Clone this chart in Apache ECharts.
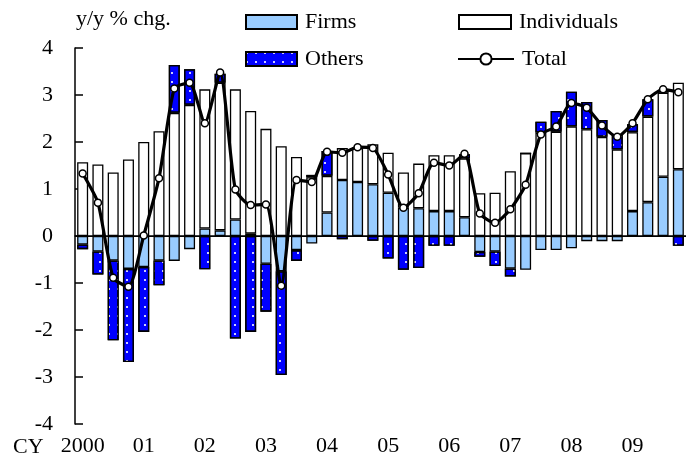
<!DOCTYPE html>
<html>
<head>
<meta charset="utf-8">
<script src="https://cdn.jsdelivr.net/npm/echarts@6/dist/echarts.min.js"></script>
<style>
  html, body { margin: 0; padding: 0; background: #fff; }
  #main { width: 686px; height: 468px; }
</style>
</head>
<body>
<div id="main"></div>
<script>
// year labels on the x axis, one per 4 quarters
var yearLabels = ['2000', '01', '02', '03', '04', '05', '06', '07', '08', '09'];

// y/y % chg. contributions, quarterly 2000Q1 - 2009Q4
var firms = [-0.18, -0.33, -0.52, -0.70, -0.66, -0.52, -0.53, -0.28,
  0.16, 0.12, 0.35, 0.05, -0.59, -0.75, -0.30, -0.16,
  0.50, 1.19, 1.15, 1.10, 0.92, 0.60, 0.59, 0.53,
  0.53, 0.40, -0.34, -0.33, -0.69, -0.72, -0.30, -0.30,
  -0.26, -0.11, -0.11, -0.11, 0.53, 0.72, 1.26, 1.42];
var individuals = [1.57, 1.52, 1.35, 1.63, 2.00, 2.23, 2.62, 2.79,
  2.96, 3.14, 2.77, 2.61, 2.28, 1.91, 1.68, 1.25,
  0.78, 0.68, 0.72, 0.85, 0.85, 0.75, 0.95, 1.19,
  1.19, 1.25, 0.91, 0.92, 1.38, 1.76, 2.20, 2.22,
  2.33, 2.27, 2.11, 1.84, 1.68, 1.82, 1.79, 1.84];
var others = [-0.10, -0.49, -1.70, -1.98, -1.38, -0.53, 1.02, 0.76,
  -0.71, 0.19, -2.18, -2.04, -1.02, -2.21, -0.23, 0.05,
  0.53, -0.07, 0, -0.10, -0.48, -0.72, -0.68, -0.21,
  -0.21, 0.09, -0.10, -0.31, -0.17, 0, 0.23, 0.44,
  0.74, 0.58, 0.36, 0.32, 0.17, 0.37, 0.05, -0.21];
var total = [1.33, 0.71, -0.89, -1.08, 0.01, 1.23, 3.14, 3.26,
  2.40, 3.48, 0.99, 0.66, 0.67, -1.06, 1.19, 1.15,
  1.79, 1.77, 1.89, 1.87, 1.31, 0.60, 0.91, 1.56,
  1.50, 1.75, 0.48, 0.28, 0.57, 1.09, 2.16, 2.33,
  2.83, 2.73, 2.35, 2.11, 2.40, 2.91, 3.12, 3.06];

var quarters = [];
yearLabels.forEach(function (y) {
  ['Q1', 'Q2', 'Q3', 'Q4'].forEach(function (q) { quarters.push(y + ' ' + q); });
});

var FONT = '"Liberation Serif", "Times New Roman", serif';
var chart = echarts.init(document.getElementById('main'));

function legendAt(name, left, top, w, icon) {
  return {
    data: [{ name: name, icon: icon }], left: left, top: top, padding: 0,
    itemWidth: w, itemHeight: 14, selectedMode: false,
    textStyle: { fontFamily: FONT, fontSize: 22, color: '#000', lineHeight: 22, padding: [0, 0, 0, 3] }
  };
}

chart.setOption({
  animation: false,
  backgroundColor: '#fff',
  textStyle: { fontFamily: FONT },
  grid: { left: 75, right: -6, top: 48, bottom: 44 },
  legend: [
    legendAt('Firms', 245, 11, 51, 'rect'),
    legendAt('Individuals', 458, 11, 52, 'rect'),
    legendAt('Others', 245, 48, 51, 'rect'),
    legendAt('Total', 457, 48, 56)
  ],
  graphic: [
    { type: 'text', left: 76, top: 8, style: { text: 'y/y % chg.', font: '22px ' + FONT, fill: '#000' } },
    { type: 'text', left: 13, top: 436, style: { text: 'CY', font: '22px ' + FONT, fill: '#000' } }
  ],
  xAxis: {
    type: 'category',
    data: quarters,
    boundaryGap: true,
    axisLine: { lineStyle: { color: '#000', width: 1.5 } },
    axisTick: { interval: 3, length: 8, lineStyle: { color: '#000', width: 1.5 } },
    axisLabel: {
      interval: 3, margin: 11, color: '#000', fontSize: 22, fontFamily: FONT,
      formatter: function (v) { return v.split(' ')[0]; }
    },
    splitLine: { show: false }
  },
  yAxis: {
    type: 'value', min: -4, max: 4, interval: 1,
    axisLine: { show: true, lineStyle: { color: '#000', width: 1.5 } },
    axisTick: { show: true, inside: true, length: 8, lineStyle: { color: '#000', width: 1.5 } },
    axisLabel: { margin: 22, color: '#000', fontSize: 22, fontFamily: FONT },
    splitLine: { show: false }
  },
  series: [
    {
      name: 'Firms', type: 'bar', stack: 'c', data: firms, barWidth: '72%',
      itemStyle: { color: '#99CCFF', borderColor: '#000', borderWidth: 1.3 },
      markLine: {
        silent: true, symbol: 'none', label: { show: false },
        lineStyle: { color: '#000', width: 1, type: 'solid' },
        data: [{ yAxis: 0 }]
      }
    },
    {
      name: 'Individuals', type: 'bar', stack: 'c', data: individuals,
      itemStyle: { color: '#ffffff', borderColor: '#000', borderWidth: 1.3 }
    },
    {
      name: 'Others', type: 'bar', stack: 'c', data: others,
      itemStyle: {
        color: '#0000FF', borderColor: '#000', borderWidth: 1.3,
        decal: {
          symbol: 'rect', symbolSize: 1, color: 'rgba(255,255,255,0.8)',
          dashArrayX: [1.2, 6.5], dashArrayY: [1.2, 6.5], rotation: 0
        }
      }
    },
    {
      name: 'Total', type: 'line', data: total, smooth: 0.2,
      symbol: 'circle', symbolSize: 7,
      lineStyle: { color: '#000', width: 3.2 },
      itemStyle: { color: '#fff', borderColor: '#000', borderWidth: 1.5 },
      z: 5
    }
  ]
});
</script>
</body>
</html>
